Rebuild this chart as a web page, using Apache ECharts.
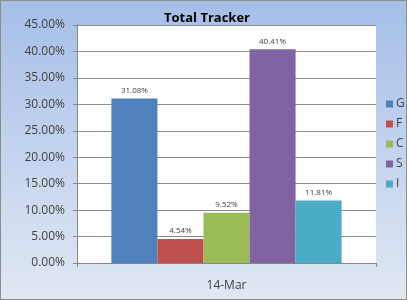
<!DOCTYPE html>
<html><head><meta charset="utf-8">
<script src="https://cdn.jsdelivr.net/npm/echarts@6/dist/echarts.min.js"></script>
<style>html,body{margin:0;padding:0;}#c{width:407px;height:300px;}</style>
</head><body><div id="c"></div>
<script>
const categories = ['14-Mar'];
const seriesNames = ['G', 'F', 'C', 'S', 'I'];
const seriesValues = [31.08, 4.54, 9.52, 40.41, 11.81];
const seriesColors = ['#4f81bd', '#c0504d', '#9bbb59', '#8064a2', '#4bacc6'];
const yMin = 0, yMax = 45, yStep = 5;

const chart = echarts.init(document.getElementById('c'));
const font = 'Open Sans';
chart.setOption({
  animation: false,
  backgroundColor: {type:'linear', x:0, y:0, x2:0, y2:1, colorStops:[
    {offset:0, color:'#a5bee8'}, {offset:1, color:'#e1e8f4'}]},
  textStyle: {fontFamily: font},
  title: {text: 'Total Tracker', left: 202, top: 7, textAlign: 'center',
    textStyle: {fontFamily: font, fontWeight: 'bold', fontSize: 13, color: '#000'}},
  graphic: [{type:'rect', shape:{x:0.5, y:0.5, width:406, height:299},
    style:{fill:'none', stroke:'#8c8c8c', lineWidth:1}, silent:true}],
  legend: {orient:'vertical', left: 386, top: 96, padding: 0, itemWidth: 7, itemHeight: 7, itemGap: 4,
    icon: 'rect', data: seriesNames,
    textStyle: {fontFamily: font, fontSize: 12, color: '#404040', padding:[0,0,0,-2], lineHeight: 16}},
  grid: {left: 77, right: 31, top: 25, bottom: 37, show: true, backgroundColor: '#ffffff', borderWidth: 0},
  xAxis: {type: 'category', data: categories,
    axisLine: {lineStyle: {color: '#868686'}},
    axisTick: {show: true, length: 4, lineStyle: {color: '#868686'}},
    axisLabel: {fontFamily: font, fontSize: 12, color: '#404040', margin: 17}},
  yAxis: {type: 'value', min: yMin, max: yMax, interval: yStep,
    axisLine: {show: true, lineStyle: {color: '#868686'}},
    axisTick: {show: true, length: 4, lineStyle: {color: '#868686'}},
    splitLine: {lineStyle: {color: '#8c8c8c'}},
    axisLabel: {fontFamily: font, fontSize: 12, color: '#404040', margin: 12,
      formatter: v => v.toFixed(2) + '%'}},
  series: seriesNames.map((n, i) => ({
    name: n, type: 'bar', data: [seriesValues[i]],
    barGap: '0%', barCategoryGap: '23%',
    itemStyle: {color: seriesColors[i]},
    label: {show: true, position: 'top', distance: 4, fontFamily: font, fontSize: 8, color: '#404040',
      formatter: p => p.value.toFixed(2) + '%'}
  }))
});
</script></body></html>
